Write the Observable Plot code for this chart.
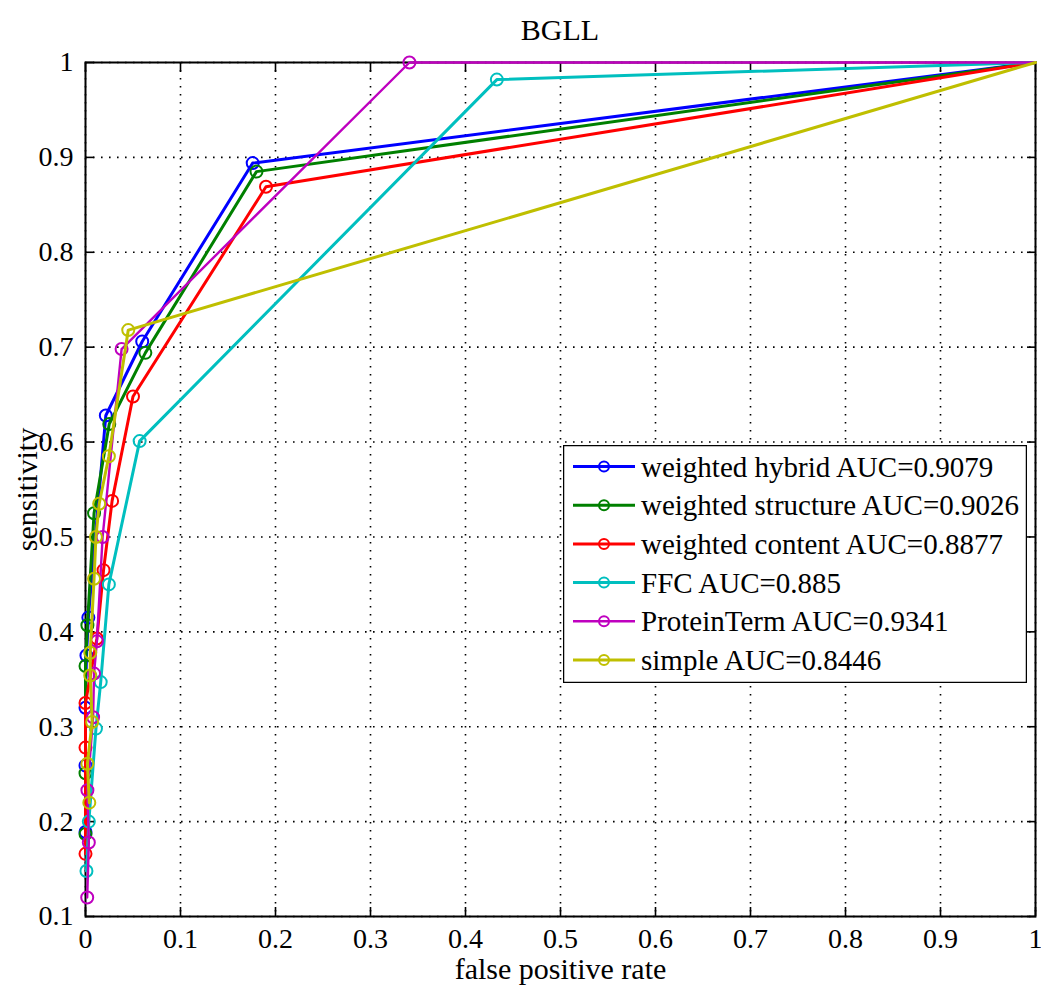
<!DOCTYPE html>
<html>
<head>
<meta charset="utf-8">
<script src="https://cdn.jsdelivr.net/npm/d3@7"></script>
<script src="https://cdn.jsdelivr.net/npm/@observablehq/plot@0.6"></script>
<style>
  html, body { margin: 0; padding: 0; background: white; }
  #wrap { position: relative; width: 1041px; height: 987px; font-family: "Liberation Serif", "Times New Roman", serif; }
  #title { height: 50px; width: 950px; margin-left: 85px; text-align: center; font-size: 30px; line-height: 60px; color: black; }
  #legend { position: absolute; left: 563px; top: 445px; }
</style>
</head>
<body>
<div id="wrap">
  <div id="title">BGLL</div>
  <div id="chart"></div>
  <svg id="legend" width="464" height="238"></svg>
</div>
<script>
// ---- data ----
const xTicks = [0, 0.1, 0.2, 0.3, 0.4, 0.5, 0.6, 0.7, 0.8, 0.9, 1];
const yTicks = [0.1, 0.2, 0.3, 0.4, 0.5, 0.6, 0.7, 0.8, 0.9, 1];

const seriesNames = [
  "weighted hybrid AUC=0.9079",
  "weighted structure AUC=0.9026",
  "weighted content AUC=0.8877",
  "FFC AUC=0.885",
  "ProteinTerm AUC=0.9341",
  "simple AUC=0.8446"
];
const seriesColors = ["#0000ff", "#008000", "#ff0000", "#00bfbf", "#bf00bf", "#bfbf00"];

const hybridFpr = [0, 0, 0, 0.001, 0.003, 0.0214, 0.0597, 0.176, 1];
const hybridTpr = [0.189, 0.259, 0.32, 0.375, 0.415, 0.628, 0.706, 0.894, 1];

const structureFpr = [0, 0, 0, 0.002, 0.009, 0.025, 0.063, 0.18, 1];
const structureTpr = [0.187, 0.251, 0.364, 0.407, 0.525, 0.619, 0.694, 0.885, 1];

const contentFpr = [0, 0, 0, 0.012, 0.019, 0.028, 0.05, 0.19, 1];
const contentTpr = [0.166, 0.278, 0.325, 0.393, 0.465, 0.538, 0.648, 0.869, 1];

const ffcFpr = [0.001, 0.0035, 0.011, 0.016, 0.0246, 0.057, 0.433, 1];
const ffcTpr = [0.148, 0.2, 0.298, 0.347, 0.45, 0.601, 0.982, 1];

const proteinFpr = [0.0018, 0.0035, 0.002, 0.008, 0.009, 0.012, 0.018, 0.038, 0.341, 1];
const proteinTpr = [0.12, 0.178, 0.233, 0.31, 0.356, 0.39, 0.5, 0.698, 1, 1];

const simpleFpr = [0.004, 0.002, 0.007, 0.005, 0.005, 0.009, 0.011, 0.0144, 0.0246, 0.045, 1];
const simpleTpr = [0.22, 0.261, 0.305, 0.354, 0.378, 0.456, 0.5, 0.535, 0.585, 0.718, 1];

const fprs = [hybridFpr, structureFpr, contentFpr, ffcFpr, proteinFpr, simpleFpr];
const tprs = [hybridTpr, structureTpr, contentTpr, ffcTpr, proteinTpr, simpleTpr];
const lineWidths = [3, 3, 3, 3, 2.4, 3];

// build tables
const tables = fprs.map((f, i) => f.map((x, j) => ({series: seriesNames[i], x, y: tprs[i][j]})));

const gridStyle = {stroke: "black", strokeOpacity: 1, strokeWidth: 1.6, strokeDasharray: "1.6,6.4"};

const seriesMarks = tables.flatMap((t, i) => [
  Plot.line(t, {x: "x", y: "y", stroke: seriesColors[i], strokeWidth: lineWidths[i], curve: "linear"}),
  Plot.dot(t.filter(d => d.x < 1), {x: "x", y: "y", stroke: seriesColors[i], r: 6, strokeWidth: 2, fill: "none"})
]);

const chart = Plot.plot({
  width: 1041,
  height: 937,
  marginLeft: 85,
  marginRight: 6,
  marginTop: 12,
  marginBottom: 71,
  x: {domain: [0, 1]},
  y: {domain: [0.1, 1]},
  style: {fontFamily: "'Liberation Serif', 'Times New Roman', serif", fontSize: "28px", color: "black", background: "white", overflow: "visible"},
  marks: [
    Plot.gridX(xTicks, gridStyle),
    Plot.gridY(yTicks, gridStyle),
    Plot.frame({stroke: "black", strokeWidth: 2}),
    Plot.axisX(xTicks, {anchor: "bottom", tickSize: 0, tickPadding: 12, tickFormat: d => String(d),
      label: null, fontSize: 28}),
    Plot.axisX({anchor: "bottom", ticks: [], label: "false positive rate", labelAnchor: "center",
      labelArrow: "none", labelOffset: 62, fontSize: 30}),
    Plot.axisX(xTicks, {anchor: "bottom", tickSize: -9, tickFormat: () => "", label: null, strokeWidth: 1.6}),
    Plot.axisX(xTicks, {anchor: "top", tickSize: -9, tickFormat: () => "", label: null, strokeWidth: 1.6}),
    Plot.axisY(yTicks, {anchor: "left", tickSize: 0, tickPadding: 12, tickFormat: d => String(d),
      label: null, fontSize: 28}),
    Plot.axisY({anchor: "left", ticks: [], label: "sensitivity", labelAnchor: "center",
      labelArrow: "none", labelOffset: 70, fontSize: 30}),
    Plot.axisY(yTicks, {anchor: "left", tickSize: -9, tickFormat: () => "", label: null, strokeWidth: 1.6}),
    Plot.axisY(yTicks, {anchor: "right", tickSize: -9, tickFormat: () => "", label: null, strokeWidth: 1.6}),
    ...seriesMarks
  ]
});
document.getElementById("chart").appendChild(chart);

// legend (inside plot area, drawn over grid)
const leg = d3.select("#legend");
leg.append("rect").attr("x", 0.5).attr("y", 0.5).attr("width", 463).attr("height", 237)
  .attr("fill", "white").attr("stroke", "black").attr("stroke-width", 1.5);
const rows = leg.selectAll("g.row").data(seriesNames).join("g")
  .attr("transform", (d, i) => `translate(0,${21.5 + i * 38.7})`);
rows.append("line").attr("x1", 10).attr("x2", 72).attr("y1", 0).attr("y2", 0)
  .attr("stroke", (d, i) => seriesColors[i]).attr("stroke-width", (d, i) => lineWidths[i]);
rows.append("circle").attr("cx", 41).attr("cy", 0).attr("r", 5)
  .attr("fill", "none").attr("stroke", (d, i) => seriesColors[i]).attr("stroke-width", 2);
rows.append("text").attr("x", 78).attr("y", 0).attr("dy", "0.35em")
  .attr("font-family", "'Liberation Serif', 'Times New Roman', serif").attr("font-size", 29)
  .attr("fill", "black").text(d => d);
</script>
</body>
</html>
